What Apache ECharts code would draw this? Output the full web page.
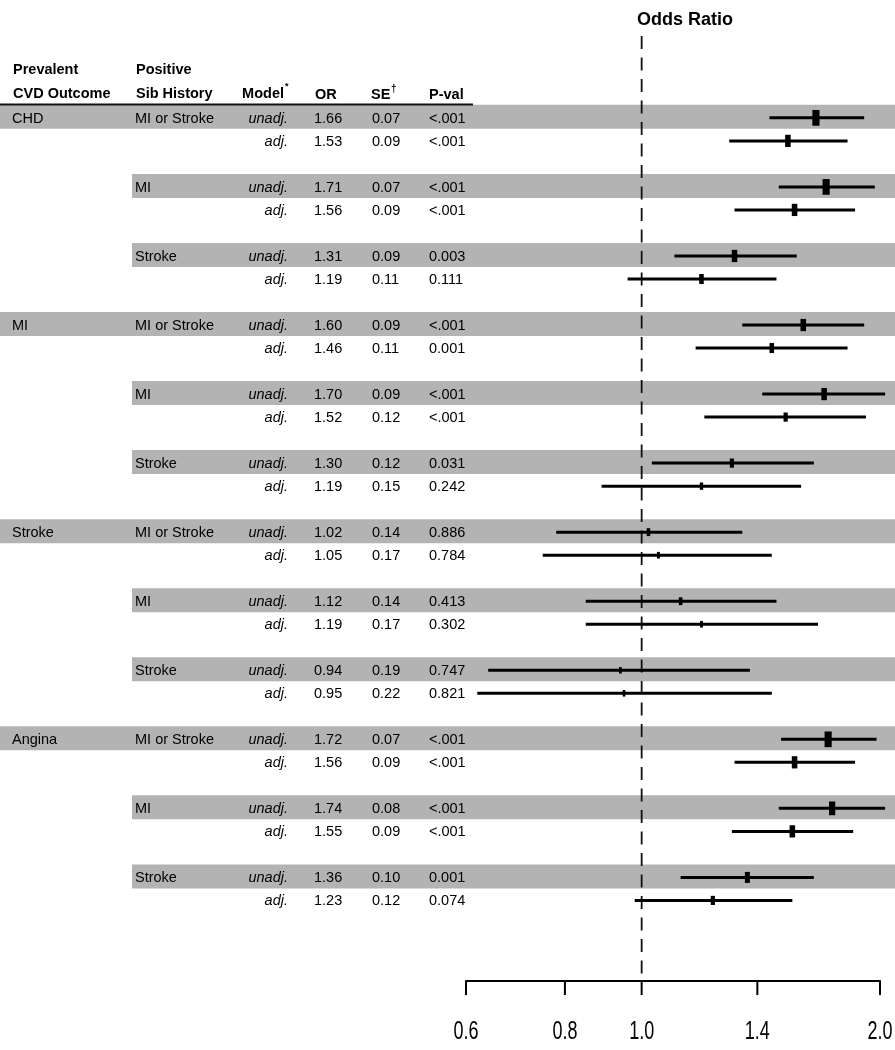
<!DOCTYPE html>
<html><head><meta charset="utf-8">
<script src="https://cdn.jsdelivr.net/npm/echarts@6/dist/echarts.min.js"></script>
<style>html,body{margin:0;padding:0;background:#fff}#c{width:895px;height:1050px}</style>
</head><body><div id="c"></div>
<script>
// ---------------- data ----------------
const outcomes = ['CHD', 'MI', 'Stroke', 'Angina'];
const sibHistory = ['MI or Stroke', 'MI', 'Stroke'];
const models = ['unadj.', 'adj.'];
const orValues = [1.66, 1.53, 1.71, 1.56, 1.31, 1.19,
                  1.60, 1.46, 1.70, 1.52, 1.30, 1.19,
                  1.02, 1.05, 1.12, 1.19, 0.94, 0.95,
                  1.72, 1.56, 1.74, 1.55, 1.36, 1.23];
const seValues = [0.07, 0.09, 0.07, 0.09, 0.09, 0.11,
                  0.09, 0.11, 0.09, 0.12, 0.12, 0.15,
                  0.14, 0.17, 0.14, 0.17, 0.19, 0.22,
                  0.07, 0.09, 0.08, 0.09, 0.10, 0.12];
const pValues = ['<.001', '<.001', '<.001', '<.001', '0.003', '0.111',
                 '<.001', '0.001', '<.001', '<.001', '0.031', '0.242',
                 '0.886', '0.784', '0.413', '0.302', '0.747', '0.821',
                 '<.001', '<.001', '<.001', '<.001', '0.001', '0.074'];
const ciLower = [1.45, 1.29, 1.49, 1.31, 1.10, 0.96,
                 1.34, 1.17, 1.42, 1.20, 1.03, 0.89,
                 0.78, 0.75, 0.85, 0.85, 0.64, 0.62,
                 1.50, 1.31, 1.49, 1.30, 1.12, 0.98];
const ciUpper = [1.91, 1.82, 1.97, 1.86, 1.57, 1.48,
                 1.91, 1.82, 2.03, 1.92, 1.65, 1.59,
                 1.34, 1.46, 1.48, 1.67, 1.37, 1.46,
                 1.98, 1.86, 2.03, 1.85, 1.65, 1.55];
const xTicks = [0.6, 0.8, 1.0, 1.4, 2.0];
const refValue = 1.0;

// ---------------- layout ----------------
const Y_MIN = -3.6, Y_MAX = 37.5;
const FONT = '"Liberation Sans", Arial, Helvetica, sans-serif';
const rows = orValues.map((v, i) => ({
  outcome: (i % 6 === 0) ? outcomes[Math.floor(i / 6)] : '',
  sib: (i % 2 === 0) ? sibHistory[Math.floor((i % 6) / 2)] : '',
  model: models[i % 2],
  or: v, se: seValues[i], p: pValues[i], lo: ciLower[i], hi: ciUpper[i],
  row: Math.floor(i / 2) * 3 + (i % 2),
  groupStart: i % 6 === 0
}));

const chart = echarts.init(document.getElementById('c'), null, {renderer: 'canvas'});

function txt(x, y, s, opt) {
  return {type: 'text', x: x, y: y, style: Object.assign({
    text: s, fill: '#000', fontFamily: FONT, fontSize: 14.5,
    align: 'left', verticalAlign: 'middle'}, opt || {})};
}

const option = {
  animation: false,
  backgroundColor: '#fff',
  grid: {left: 466, width: 414, top: 35, height: 946},
  xAxis: {
    type: 'log', logBase: 10, min: 0.6, max: 2.0,
    axisLine: {show: true, onZero: false, lineStyle: {color: '#000', width: 2}},
    axisTick: {show: false}, axisLabel: {show: false},
    splitLine: {show: false}, minorTick: {show: false}
  },
  yAxis: {type: 'value', inverse: true, min: Y_MIN, max: Y_MAX, show: false},
  graphic: [
    txt(685, 20, 'Odds Ratio', {fontWeight: 'bold', fontSize: 18, align: 'center'}),
    txt(13, 70, 'Prevalent', {fontWeight: 'bold'}),
    txt(13, 94, 'CVD Outcome', {fontWeight: 'bold'}),
    txt(136, 70, 'Positive', {fontWeight: 'bold'}),
    txt(136, 94, 'Sib History', {fontWeight: 'bold'}),
    txt(284, 94, 'Model', {fontWeight: 'bold', align: 'right'}),
    txt(285, 87, '*', {fontWeight: 'bold', fontSize: 9}),
    txt(315, 95, 'OR', {fontWeight: 'bold'}),
    txt(371, 95, 'SE', {fontWeight: 'bold'}),
    txt(391, 89, '\u2020', {fontWeight: 'bold', fontSize: 10}),
    txt(429, 95, 'P-val', {fontWeight: 'bold'}),
    {type: 'line', shape: {x1: 0, y1: 104.5, x2: 473, y2: 104.5}, z: 100,
     style: {stroke: '#111', lineWidth: 1.8}}
  ],
  series: [
    { // grey bands
      type: 'custom', z: 1, silent: true, clip: false,
      encode: {x: 0, y: 1},
      data: rows.filter(r => r.model === 'unadj.').map(r => [refValue, r.row, r.groupStart ? 1 : 0]),
      renderItem: function (params, api) {
        const y = api.coord([refValue, api.value(1)])[1];
        const x0 = api.value(2) ? 0 : 132;
        return {type: 'rect', shape: {x: x0, y: y - 13, width: 895 - x0, height: 24},
                style: {fill: '#b3b3b3'}};
      }
    },
    { // table text
      type: 'custom', z: 3, silent: true, clip: false,
      encode: {x: 0, y: 1},
      data: rows.map(r => [refValue, r.row]),
      renderItem: function (params, api) {
        const r = rows[params.dataIndex];
        const y = api.coord([refValue, api.value(1)])[1] + 1;
        return {type: 'group', children: [
          txt(12, y, r.outcome),
          txt(135, y, r.sib),
          txt(288, y, r.model, {fontStyle: 'italic', align: 'right'}),
          txt(314, y, r.or.toFixed(2)),
          txt(372, y, r.se.toFixed(2)),
          txt(429, y, r.p)
        ]};
      }
    },
    { // reference dashed line at OR = 1
      type: 'custom', z: 2, silent: true, clip: false,
      encode: {x: 0, y: [1, 2]},
      data: [[refValue, Y_MIN, Y_MAX]],
      renderItem: function (params, api) {
        const a = api.coord([api.value(0), api.value(1)]);
        const b = api.coord([api.value(0), api.value(2)]);
        return {type: 'line', shape: {x1: a[0], y1: a[1] + 1, x2: b[0], y2: b[1]},
                style: {stroke: '#111', lineWidth: 1.8, lineDash: [13, 8.5]}};
      }
    },
    { // CI lines and boxes
      type: 'custom', z: 4, silent: true, clip: false,
      encode: {x: [0, 1, 2], y: 3},
      data: rows.map(r => [r.lo, r.hi, r.or, r.row, r.se]),
      renderItem: function (params, api) {
        const row = api.value(3);
        const lo = api.coord([api.value(0), row]);
        const hi = api.coord([api.value(1), row]);
        const c = api.coord([api.value(2), row]);
        const se = api.value(4);
        const w = Math.max(2.6, 0.5 / se), h = Math.max(6.6, 1.1 / se);
        return {type: 'group', children: [
          {type: 'line', shape: {x1: lo[0], y1: lo[1], x2: hi[0], y2: hi[1]},
           style: {stroke: '#000', lineWidth: 3}},
          {type: 'rect', shape: {x: c[0] - w / 2, y: c[1] - h / 2, width: w, height: h},
           style: {fill: '#000'}}
        ]};
      }
    },
    { // axis ticks and labels
      type: 'custom', z: 4, silent: true, clip: false,
      encode: {x: 0, y: 1},
      data: xTicks.map(v => [v, Y_MAX]),
      renderItem: function (params, api) {
        const p = api.coord([api.value(0), api.value(1)]);
        return {type: 'group', children: [
          {type: 'line', shape: {x1: p[0], y1: p[1], x2: p[0], y2: p[1] + 14},
           style: {stroke: '#000', lineWidth: 2}},
          {type: 'text', x: p[0], y: p[1] + 51, scaleX: 0.72, style: {
            text: api.value(0).toFixed(1), fill: '#000',
            fontFamily: FONT,
            fontSize: 25, align: 'center', verticalAlign: 'middle'}}
        ]};
      }
    }
  ]
};
chart.setOption(option);
</script>
</body></html>
